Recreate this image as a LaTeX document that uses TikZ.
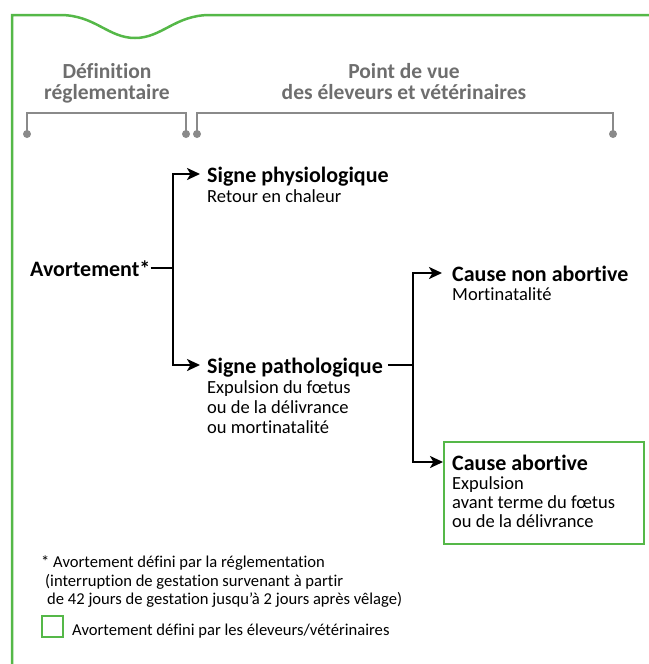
\documentclass[tikz,border=0pt]{standalone}
\usepackage{fontspec}
\setmainfont{Carlito}[Ligatures=NoCommon]
\usetikzlibrary{arrows.meta}
\definecolor{frgreen}{HTML}{55B848}
\definecolor{brgrey}{HTML}{8A8A8A}
\definecolor{hdgrey}{HTML}{6E6E6E}
\begin{document}
\begin{tikzpicture}[x=1pt,y=-1pt,
  title/.style={anchor=base west,inner sep=0pt,font=\fontsize{22}{24}\selectfont\bfseries},
  desc/.style={anchor=base west,inner sep=0pt,font=\fontsize{18.5}{21}\selectfont},
  head/.style={anchor=base,inner sep=0pt,text=hdgrey,font=\fontsize{21.5}{24}\selectfont\bfseries},
  note/.style={anchor=base west,inner sep=0pt,font=\fontsize{16.6}{19}\selectfont},
  conn/.style={line width=2.4pt,black},
  arr/.style={conn,-{Stealth[length=13pt,width=12pt,inset=3.5pt]}},
  brk/.style={line width=2pt,brgrey},
  dot/.style={circle,fill=brgrey,inner sep=0pt,minimum size=8pt},
  gbox/.style={draw=frgreen,line width=2pt}]
\useasboundingbox (0,0) rectangle (648,664);
% frame
\draw[frgreen,line width=2.5pt] (12,664) -- (12,15) -- (60,15)
  .. controls (95,15) and (108,38) .. (135,38)
  .. controls (162,38) and (175,15) .. (210,15) -- (650,15);
% headings
\node[head] (h1a) at (107,78) {Définition};
\node[head] (h1b) at (107,99.5) {réglementaire};
\node[head] (h2a) at (404,78) {Point de vue};
\node[head] (h2b) at (404,99.5) {des éleveurs et vétérinaires};
% brackets
\node[dot] (d1) at (27,134) {};
\node[dot] (d2) at (186,134) {};
\node[dot] (d3) at (197,134) {};
\node[dot] (d4) at (613,134) {};
\draw[brk] (d1.center) |- (113,113) -| (d2.center);
\draw[brk] (d3.center) |- (400,113) -| (d4.center);
% nodes
\node[title] (av) at (30,276) {Avortement*};
\coordinate (j1) at (173,268);
\node[title] (sp) at (207,182) {Signe physiologique};
\node[desc] (spd) at (207,202) {Retour en chaleur};
\node[title] (spa) at (207,373) {Signe pathologique};
\node[desc] (spa1) at (207,393) {Expulsion du fœtus};
\node[desc] (spa2) at (207,413) {ou de la délivrance};
\node[desc] (spa3) at (207,433) {ou mortinatalité};
\coordinate (j2) at (413,365);
\node[title] (cna) at (452,281) {Cause non abortive};
\node[desc] (cnad) at (452,300) {Mortinatalité};
\node[gbox,minimum width=200pt,minimum height=102pt,anchor=north west] (box) at (443,441) {};
\node[title] (ca) at (452,470) {Cause abortive};
\node[desc] (ca1) at (452,489) {Expulsion};
\node[desc] (ca2) at (452,508) {avant terme du fœtus};
\node[desc] (ca3) at (452,527) {ou de la délivrance};
% connectors
\draw[conn] (av.east |- j1) -- (j1);
\draw[arr] (j1) |- (200,174);
\draw[arr] (j1) |- (200,365);
\draw[conn] (spa.east |- j2) ++(5,0) -- (j2);
\draw[arr] (j2) |- (442,273);
\draw[arr] (j2) |- (box.west |- 0,462);
% footnote
\node[note] (n1) at (41,567) {* Avortement défini par la réglementation};
\node[note] (n2) at (45,586) {(interruption de gestation survenant à partir};
\node[note] (n3) at (47,604) {de 42 jours de gestation jusqu’à 2 jours après vêlage)};
\node[gbox,minimum width=21pt,minimum height=21pt,anchor=north west] (leg) at (41,615) {};
\node[note] (n4) at (72,635) {Avortement défini par les éleveurs/vétérinaires};
\end{tikzpicture}
\end{document}
